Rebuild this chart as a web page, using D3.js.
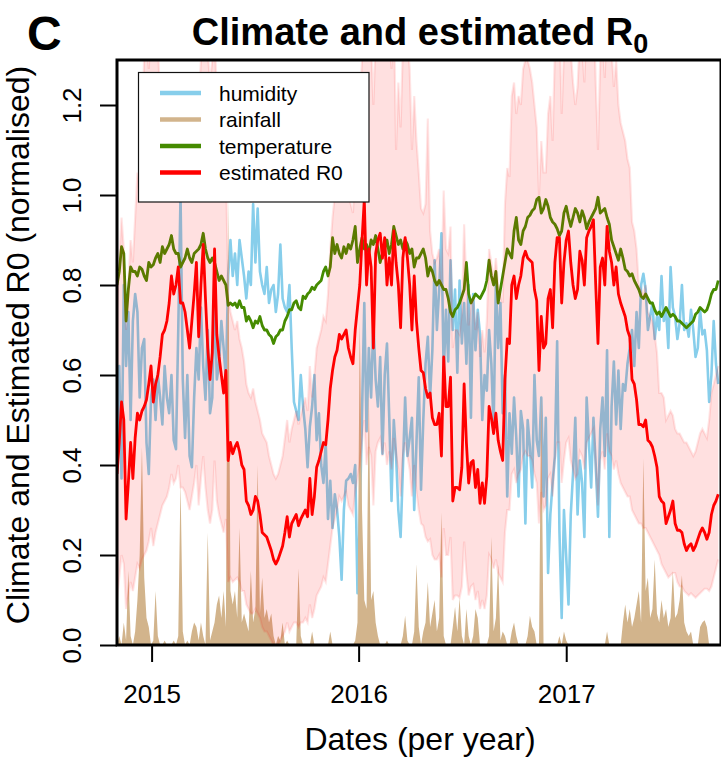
<!DOCTYPE html>
<html>
<head>
<meta charset="utf-8">
<script src="https://cdn.jsdelivr.net/npm/d3@7"></script>
<style>
  body { margin: 0; background: #fff; }
  svg { display: block; }
  text { font-family: "Liberation Sans", Arial, Helvetica, sans-serif; fill: #000; }
</style>
</head>
<body>
<svg id="chart" width="721" height="762"></svg>
<script>
// Series sampled every 4 days from 1 Nov 2014 (normalised values).
const seriesStart = "2014-11-01";
const stepDays = 4;

const humidity = [
  0.38,0.62,0.37,0.80,0.62,0.74,0.50,0.72,0.78,0.74,
  0.55,0.66,0.68,0.45,0.38,0.55,0.59,0.50,0.60,0.55,
  0.49,0.62,0.55,0.515,0.60,0.455,0.435,0.70,1.00,0.59,
  0.46,0.60,0.42,0.395,0.55,0.66,0.59,0.75,0.62,0.545,
  0.70,0.515,0.55,0.78,0.59,0.625,0.72,0.66,0.59,0.82,
  0.90,0.82,0.87,0.80,0.90,0.86,0.82,0.77,0.83,0.80,
  0.98,0.85,0.97,0.83,0.80,0.78,0.84,0.76,0.79,0.80,
  0.74,0.78,0.89,0.77,0.75,0.74,0.80,0.66,0.54,0.52,
  0.50,0.60,0.53,0.48,0.395,0.485,0.53,0.60,0.455,0.515,
  0.40,0.36,0.45,0.28,0.365,0.26,0.335,0.30,0.24,0.145,
  0.30,0.365,0.37,0.38,0.36,0.40,0.115,0.28,0.515,0.76,
  0.475,0.66,0.55,0.72,0.59,0.53,0.64,0.425,0.60,0.67,
  0.505,0.32,0.50,0.42,0.30,0.24,0.39,0.55,0.42,0.46,
  0.505,0.30,0.45,0.595,0.345,0.50,0.625,0.685,0.55,0.655,
  0.855,0.70,0.79,0.915,0.60,0.745,0.63,0.855,0.70,0.79,
  0.605,0.81,0.67,0.76,0.625,0.80,0.505,0.78,0.655,0.745,
  0.69,0.50,0.60,0.565,0.70,0.625,0.48,0.81,0.66,0.76,
  0.515,0.60,0.33,0.515,0.425,0.55,0.46,0.33,0.52,0.48,
  0.27,0.50,0.44,0.35,0.60,0.455,0.42,0.55,0.33,0.505,
  0.16,0.29,0.36,0.42,0.675,0.255,0.06,0.30,0.195,0.09,
  0.29,0.38,0.505,0.29,0.41,0.36,0.24,0.55,0.45,0.35,
  0.505,0.40,0.285,0.48,0.55,0.42,0.655,0.24,0.53,0.63,
  0.49,0.61,0.48,0.58,0.565,0.625,0.66,0.70,0.62,0.74,
  0.66,0.80,0.825,0.79,0.70,0.73,0.76,0.68,0.73,0.70,
  0.82,0.72,0.745,0.66,0.84,0.75,0.73,0.68,0.715,0.80,
  0.70,0.715,0.685,0.745,0.70,0.64,0.66,0.745,0.69,0.70,
  0.655,0.54,0.60,0.72,0.625,0.58
];

const rainfall = [
  0,0.02,0,0.05,0.01,0.165,0.02,0,0.03,0.10,
  0.20,0.44,0.15,0.06,0.04,0,0.01,0.12,0.02,0,
  0,0.01,0,0,0,0.01,0,0.02,0.365,0.03,
  0,0.01,0,0.03,0.05,0.04,0.01,0.05,0.02,0,
  0.25,0.01,0.03,0.05,0.09,0.11,0.06,0.12,0.04,1.0,
  0.12,0.09,0.12,0.06,0.26,0.05,0.07,0.05,0.03,0.165,
  0.05,0.08,0.40,0.07,0.15,0.06,0.08,0.05,0.07,0.02,
  0,0.02,0.01,0.05,0,0.01,0,0,0,0,
  0.17,0.02,0,0,0,0,0.03,0,0,0,
  0,0,0,0,0.03,0,0,0,0,0,
  0,0,0,0,0,0.01,0.05,0.72,0.30,0.10,
  0.08,0.565,0.10,0.12,0.05,0.02,0,0,0,0.01,
  0,0,0,0,0,0,0.02,0.065,0.01,0,
  0,0.03,0.18,0.04,0,0.03,0.05,0.14,0.04,0.07,
  0.10,0.03,0.06,0.295,0.02,0,0,0,0.04,0.085,
  0.03,0.105,0.02,0,0.08,0.02,0,0.02,0.08,0.06,
  0,0,0,0,0.02,0.24,0.03,0.06,0.18,0.01,
  0.03,0.02,0,0,0.03,0.05,0.02,0,0,0,
  0,0.02,0.065,0.04,0.03,0,0,0.56,0,0,
  0,0,0,0,0,0.02,0,0.03,0.01,0,
  0,0,0,0,0,0,0,0,0,0,
  0,0,0,0,0,0,0.03,0,0,0,
  0,0,0,0.05,0.09,0.05,0.08,0.04,0.06,0.09,
  0.12,0.05,0.415,0.12,0.15,0.06,0.08,0.19,0.07,0.05,
  0.10,0.06,0.08,0.04,0.06,0.165,0.06,0.07,0.10,0.155,
  0.05,0.03,0.02,0.03,0,0,0,0.04,0.05,0.055,
  0.04,0,0,0,0,0
];

const temperature = [
  0.80,0.83,0.885,0.87,0.72,0.79,0.84,0.83,0.83,0.82,
  0.84,0.835,0.82,0.81,0.85,0.84,0.845,0.86,0.87,0.85,
  0.885,0.87,0.88,0.89,0.91,0.88,0.87,0.87,0.84,0.85,
  0.86,0.88,0.86,0.85,0.87,0.875,0.88,0.89,0.915,0.88,
  0.86,0.85,0.86,0.85,0.83,0.81,0.82,0.81,0.80,0.755,
  0.76,0.755,0.76,0.75,0.765,0.75,0.75,0.72,0.73,0.72,
  0.705,0.72,0.715,0.73,0.71,0.70,0.70,0.69,0.685,0.67,
  0.685,0.69,0.70,0.70,0.72,0.73,0.745,0.745,0.76,0.765,
  0.75,0.745,0.775,0.77,0.78,0.785,0.795,0.79,0.80,0.805,
  0.81,0.83,0.84,0.82,0.84,0.905,0.87,0.89,0.87,0.86,
  0.885,0.87,0.89,0.88,0.90,0.93,0.85,0.88,0.905,0.88,
  0.89,0.87,0.90,0.89,0.91,0.88,0.85,0.87,0.88,0.90,
  0.87,0.89,0.93,0.91,0.89,0.90,0.88,0.90,0.89,0.87,
  0.88,0.84,0.86,0.86,0.87,0.88,0.86,0.82,0.84,0.83,
  0.81,0.80,0.81,0.80,0.79,0.79,0.77,0.74,0.73,0.745,
  0.75,0.76,0.775,0.79,0.85,0.78,0.76,0.77,0.78,0.775,
  0.77,0.78,0.79,0.81,0.855,0.82,0.80,0.83,0.76,0.79,
  0.82,0.85,0.88,0.87,0.86,0.92,0.95,0.90,0.89,0.92,
  0.93,0.95,0.955,0.965,0.97,0.99,0.995,0.96,0.97,0.99,
  0.975,0.95,0.94,0.935,0.925,0.91,0.92,0.96,0.975,0.95,
  0.93,0.95,0.97,0.96,0.94,0.965,0.95,0.925,0.94,0.95,
  0.96,0.97,0.995,0.96,0.965,0.97,0.95,0.935,0.90,0.885,
  0.87,0.855,0.88,0.86,0.835,0.83,0.82,0.825,0.81,0.80,
  0.79,0.775,0.77,0.78,0.77,0.76,0.76,0.745,0.735,0.74,
  0.73,0.74,0.75,0.74,0.73,0.735,0.73,0.72,0.72,0.715,
  0.71,0.705,0.71,0.715,0.72,0.735,0.74,0.75,0.745,0.74,
  0.745,0.76,0.78,0.79,0.79,0.81
];

const r0Estimate = [
  0.38,0.45,0.54,0.50,0.28,0.36,0.45,0.37,0.46,0.515,
  0.50,0.52,0.53,0.545,0.58,0.62,0.54,0.58,0.60,0.64,
  0.69,0.70,0.72,0.76,0.82,0.78,0.80,0.84,0.76,0.76,
  0.74,0.70,0.66,0.72,0.78,0.85,0.685,0.80,0.89,0.77,
  0.66,0.59,0.65,0.88,0.69,0.64,0.60,0.56,0.61,0.41,
  0.45,0.425,0.44,0.45,0.43,0.40,0.39,0.32,0.31,0.29,
  0.30,0.33,0.32,0.29,0.25,0.245,0.24,0.225,0.21,0.19,
  0.18,0.19,0.205,0.22,0.25,0.285,0.24,0.27,0.28,0.29,
  0.265,0.28,0.29,0.30,0.285,0.37,0.29,0.33,0.395,0.41,
  0.43,0.45,0.445,0.50,0.57,0.61,0.64,0.655,0.69,0.68,
  0.69,0.70,0.66,0.64,0.625,0.70,0.75,0.80,0.90,0.99,
  0.80,0.88,0.84,0.66,0.87,0.90,0.915,0.86,0.905,0.80,
  0.86,0.80,0.92,0.85,0.80,0.705,0.86,0.905,0.86,0.80,
  0.70,0.82,0.72,0.66,0.61,0.605,0.57,0.55,0.56,0.505,
  0.49,0.49,0.515,0.42,0.64,0.53,0.53,0.595,0.32,0.35,
  0.35,0.345,0.395,0.58,0.45,0.36,0.405,0.41,0.35,0.39,
  0.315,0.36,0.315,0.375,0.53,0.505,0.47,0.515,0.455,0.43,
  0.41,0.59,0.68,0.67,0.80,0.82,0.77,0.80,0.82,0.86,
  0.875,0.86,0.855,0.85,0.79,0.765,0.61,0.73,0.66,0.67,
  0.77,0.79,0.705,0.85,0.905,0.905,0.76,0.85,0.90,0.92,
  0.85,0.80,0.77,0.79,0.875,0.855,0.80,0.905,0.92,0.93,
  0.945,0.80,0.67,0.84,0.86,0.80,0.93,0.875,0.85,0.80,
  0.84,0.78,0.76,0.745,0.73,0.70,0.685,0.59,0.58,0.545,
  0.49,0.49,0.485,0.50,0.455,0.45,0.44,0.42,0.395,0.33,
  0.32,0.315,0.27,0.285,0.30,0.32,0.27,0.255,0.255,0.25,
  0.225,0.21,0.22,0.225,0.21,0.22,0.235,0.25,0.26,0.25,
  0.235,0.25,0.29,0.31,0.32,0.335
];

const r0Lower = [
  0.10,0.15,0.20,0.18,0.08,0.11,0.14,0.12,0.15,0.18,
  0.17,0.19,0.20,0.21,0.23,0.26,0.22,0.25,0.27,0.29,
  0.31,0.32,0.33,0.35,0.38,0.36,0.37,0.40,0.35,0.35,
  0.34,0.32,0.30,0.33,0.36,0.40,0.31,0.37,0.42,0.35,
  0.30,0.27,0.30,0.41,0.32,0.29,0.27,0.25,0.28,0.14,
  0.15,0.14,0.145,0.15,0.14,0.12,0.12,0.09,0.08,0.07,
  0.07,0.08,0.07,0.06,0.04,0.03,0.03,0.02,0.01,0,
  0,0,0.01,0.02,0.03,0.05,0.03,0.04,0.05,0.05,
  0.04,0.05,0.05,0.06,0.05,0.09,0.06,0.08,0.11,0.12,
  0.13,0.15,0.14,0.18,0.22,0.26,0.28,0.30,0.33,0.32,
  0.33,0.34,0.31,0.30,0.29,0.34,0.37,0.40,0.45,0.50,
  0.40,0.44,0.42,0.31,0.43,0.45,0.46,0.42,0.45,0.40,
  0.43,0.39,0.46,0.42,0.39,0.33,0.42,0.45,0.42,0.39,
  0.33,0.40,0.34,0.30,0.27,0.265,0.24,0.23,0.235,0.20,
  0.19,0.19,0.20,0.15,0.26,0.20,0.20,0.24,0.10,0.11,
  0.11,0.105,0.13,0.23,0.16,0.11,0.13,0.135,0.10,0.12,
  0.08,0.10,0.08,0.11,0.20,0.19,0.17,0.19,0.16,0.15,
  0.14,0.25,0.30,0.30,0.38,0.39,0.36,0.38,0.39,0.42,
  0.43,0.42,0.42,0.41,0.38,0.36,0.27,0.34,0.30,0.31,
  0.37,0.38,0.33,0.41,0.45,0.45,0.36,0.41,0.45,0.46,
  0.41,0.39,0.37,0.38,0.43,0.42,0.39,0.45,0.46,0.47,
  0.48,0.39,0.31,0.41,0.43,0.39,0.47,0.43,0.42,0.39,
  0.41,0.38,0.36,0.35,0.34,0.33,0.33,0.30,0.29,0.28,
  0.27,0.27,0.26,0.26,0.25,0.24,0.23,0.22,0.21,0.20,
  0.18,0.17,0.16,0.15,0.155,0.16,0.16,0.14,0.13,0.13,
  0.12,0.115,0.11,0.115,0.11,0.105,0.11,0.115,0.12,0.125,
  0.125,0.12,0.13,0.15,0.17,0.19
];

const r0Upper = [
  0.75,0.85,0.95,0.88,0.70,0.80,0.90,0.85,0.95,1.05,
  1.00,1.10,1.32,1.35,1.28,1.40,1.30,1.32,1.35,1.20,
  1.15,1.10,1.00,1.05,1.12,1.15,1.10,1.20,1.15,1.08,
  1.12,1.05,1.00,1.10,1.18,1.25,1.20,1.30,1.40,1.35,
  1.32,1.25,1.30,1.38,1.20,1.15,1.10,1.05,1.08,0.78,
  0.74,0.72,0.70,0.72,0.68,0.66,0.63,0.58,0.56,0.55,
  0.57,0.54,0.52,0.50,0.47,0.46,0.45,0.42,0.40,0.38,
  0.37,0.38,0.40,0.42,0.46,0.50,0.45,0.48,0.50,0.52,
  0.49,0.51,0.53,0.55,0.52,0.62,0.55,0.60,0.66,0.68,
  0.70,0.73,0.72,0.78,0.88,0.95,1.00,1.02,1.05,1.04,
  1.05,1.06,1.00,0.98,0.96,1.06,1.12,1.20,1.30,1.45,
  1.30,1.38,1.34,1.20,1.35,1.40,1.40,1.35,1.40,1.30,
  1.36,1.28,1.42,1.10,1.25,1.15,1.33,1.40,1.35,1.28,
  1.10,1.22,1.12,1.05,0.97,0.96,0.98,1.17,0.92,0.87,
  0.85,0.86,0.88,0.80,1.01,0.88,0.87,0.93,0.66,0.70,
  0.70,0.69,0.74,0.935,0.80,0.71,0.76,0.77,0.70,0.74,
  0.64,0.70,0.65,0.72,0.88,0.85,0.81,0.86,0.80,0.78,
  0.76,0.98,1.06,1.04,1.22,1.25,1.18,1.22,1.20,1.28,
  1.30,1.30,1.28,1.25,1.20,1.15,1.00,1.12,1.05,1.05,
  1.18,1.22,1.12,1.32,1.40,1.40,1.18,1.32,1.38,1.42,
  1.32,1.25,1.20,1.24,1.35,1.33,1.25,1.40,1.42,1.44,
  1.45,1.25,1.10,1.30,1.34,1.26,1.45,1.36,1.32,1.24,
  1.30,1.20,1.16,1.14,1.12,1.08,1.06,0.94,0.92,0.88,
  0.80,0.79,0.78,0.80,0.74,0.73,0.72,0.69,0.65,0.56,
  0.56,0.55,0.50,0.51,0.52,0.51,0.48,0.47,0.47,0.46,
  0.45,0.45,0.44,0.43,0.42,0.43,0.45,0.47,0.48,0.47,
  0.46,0.50,0.56,0.58,0.60,0.62
];

const yTicks = [0, 0.2, 0.4, 0.6, 0.8, 1.0, 1.2];
const xTickYears = [2015, 2016, 2017];
const legendLabels = ["humidity", "rainfall", "temperature", "estimated R0"];
const legendColors = ["#87CEEB", "#D2B48C", "#458B00", "#FF0000"];

const svg = d3.select("#chart");
const plot = { left: 117, top: 60, right: 720.5, bottom: 645 };

const t0 = d3.utcParse("%Y-%m-%d")(seriesStart);
const dates = humidity.map((_, i) => d3.utcDay.offset(t0, i * stepDays));

const x = d3.scaleUtc()
  .domain([t0, new Date(Date.UTC(2017, 8, 30))])
  .range([plot.left, plot.right]);
const y = d3.scaleLinear().domain([0, 1.3]).range([plot.bottom, plot.top]);

svg.append("defs").append("clipPath").attr("id", "plot-clip")
  .append("rect")
  .attr("x", plot.left).attr("y", plot.top)
  .attr("width", plot.right - plot.left).attr("height", plot.bottom - plot.top);

const g = svg.append("g").attr("clip-path", "url(#plot-clip)");

const line = d3.line().x((d, i) => x(dates[i])).y(d => y(d));

// humidity (drawn first, sits under the interval)
g.append("path").datum(humidity)
  .attr("d", line).attr("fill", "none")
  .attr("stroke", "#87CEEB").attr("stroke-width", 2.6).attr("stroke-linejoin", "round");

// rainfall as a filled profile
g.append("path").datum(rainfall)
  .attr("d", d3.area().x((d, i) => x(dates[i])).y0(y(0)).y1(d => y(d)))
  .attr("fill", "#D2B48C");

// temperature
g.append("path").datum(temperature)
  .attr("d", line).attr("fill", "none")
  .attr("stroke", "#458B00").attr("stroke-width", 2.8).attr("stroke-linejoin", "round");

// R0 uncertainty band
const band = r0Lower.map((lo, i) => [lo, r0Upper[i]]);
g.append("path").datum(band)
  .attr("d", d3.area().x((d, i) => x(dates[i])).y0(d => y(d[0])).y1(d => y(d[1])))
  .attr("fill", "rgba(255,0,0,0.12)");
[r0Lower, r0Upper].forEach(b => {
  g.append("path").datum(b)
    .attr("d", line).attr("fill", "none")
    .attr("stroke", "rgba(255,0,0,0.10)").attr("stroke-width", 2.2);
});

// estimated R0
g.append("path").datum(r0Estimate)
  .attr("d", line).attr("fill", "none")
  .attr("stroke", "#FF0000").attr("stroke-width", 2.8).attr("stroke-linejoin", "round");

// frame
svg.append("rect")
  .attr("x", plot.left).attr("y", plot.top)
  .attr("width", 721 - plot.left).attr("height", plot.bottom - plot.top)
  .attr("fill", "none").attr("stroke", "#000").attr("stroke-width", 3);

// y axis
const yAxis = svg.append("g").attr("transform", `translate(${plot.left},0)`)
  .call(d3.axisLeft(y).tickValues(yTicks).tickFormat(d3.format(".1f")).tickSize(17).tickPadding(0));
yAxis.select(".domain").remove();
yAxis.selectAll(".tick line").attr("stroke", "#000").attr("stroke-width", 2);
yAxis.selectAll(".tick text")
  .attr("x", null).attr("dy", null)
  .attr("transform", "translate(-36,0) rotate(-90)")
  .attr("text-anchor", "middle")
  .style("font-size", "26px")
  .style("font-family", "'Liberation Sans', Arial, sans-serif");

// x axis
const xAxis = svg.append("g").attr("transform", `translate(0,${plot.bottom})`)
  .call(d3.axisBottom(x)
    .tickValues(xTickYears.map(yr => new Date(Date.UTC(yr, 0, 1))))
    .tickFormat(d3.utcFormat("%Y")).tickSize(17).tickPadding(0));
xAxis.select(".domain").remove();
xAxis.selectAll(".tick line").attr("stroke", "#000").attr("stroke-width", 2);
xAxis.selectAll(".tick text")
  .attr("y", 58).attr("dy", null)
  .style("font-size", "26px")
  .style("font-family", "'Liberation Sans', Arial, sans-serif");

// legend
const legend = svg.append("g");
legend.append("rect")
  .attr("x", 138.5).attr("y", 72.5).attr("width", 230.5).attr("height", 129.5)
  .attr("fill", "#fff").attr("stroke", "#111").attr("stroke-width", 1.2);
legendLabels.forEach((lab, i) => {
  const ly = 93 + i * 26.5;
  legend.append("line")
    .attr("x1", 160).attr("x2", 201).attr("y1", ly).attr("y2", ly)
    .attr("stroke", legendColors[i]).attr("stroke-width", 4.5);
  legend.append("text")
    .attr("x", 219).attr("y", ly + 7.5)
    .style("font-size", "21px").text(lab);
});

// titles
const title = svg.append("text")
  .attr("x", 420).attr("y", 45).attr("text-anchor", "middle")
  .style("font-size", "38px").style("font-weight", "bold");
title.append("tspan").text("Climate and estimated R");
title.append("tspan").attr("dy", 8).style("font-size", "27px").text("0");

svg.append("text")
  .attr("x", 27).attr("y", 50)
  .style("font-size", "48px").style("font-weight", "bold").text("C");

svg.append("text")
  .attr("x", 420).attr("y", 750).attr("text-anchor", "middle")
  .style("font-size", "32px").text("Dates (per year)");

svg.append("text")
  .attr("transform", "translate(29,345) rotate(-90)")
  .attr("text-anchor", "middle")
  .style("font-size", "32px").text("Climate and Estimated R0 (normalised)");
</script>
</body>
</html>
